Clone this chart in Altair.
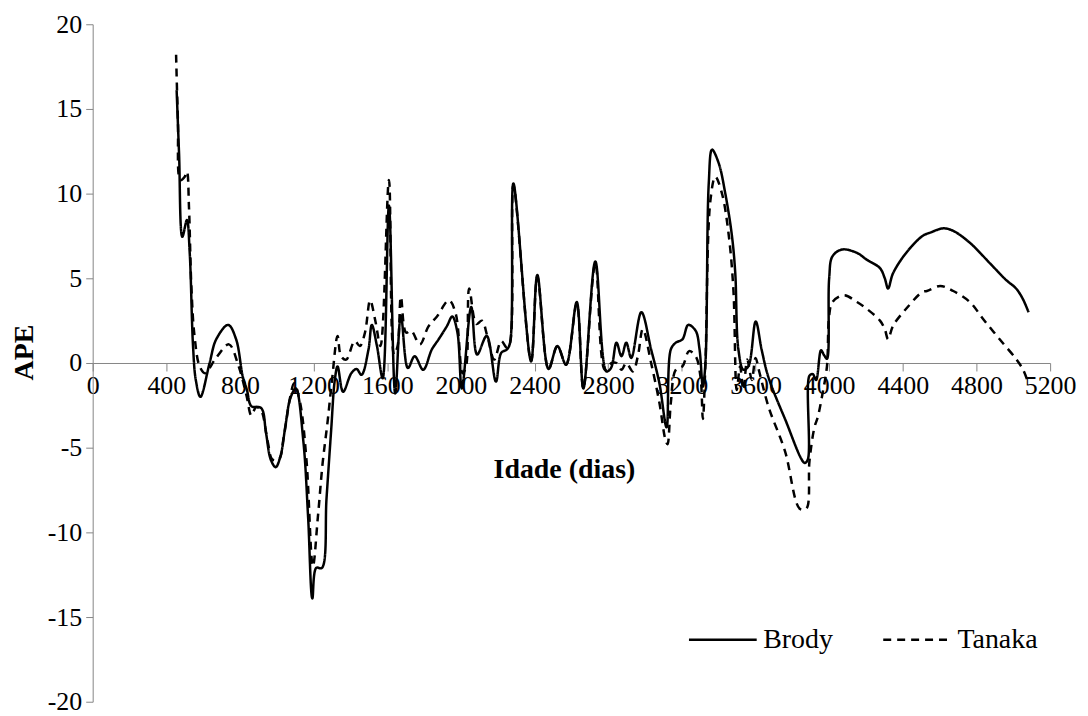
import altair as alt
import pandas as pd

# ---- data ----
brody_x = [456, 469, 487, 512, 527, 545, 560, 585, 635, 671, 736, 779, 815, 838, 862, 915, 941, 967, 994, 1020,
           1047, 1073, 1103, 1144, 1170, 1193, 1214, 1245, 1270, 1295, 1315, 1330, 1360, 1405, 1433, 1460, 1498,
           1516, 1544, 1575, 1609, 1643, 1674, 1712, 1749, 1795, 1842, 1879, 1925, 1953, 1981, 2005, 2056, 2088,
           2140, 2190, 2219, 2250, 2267, 2285, 2381, 2415, 2476, 2524, 2571, 2629, 2665, 2730, 2790, 2815, 2845,
           2872, 2898, 2925, 2980, 3033, 3078, 3117, 3140, 3167, 3203, 3235, 3275, 3296, 3314, 3328, 3346, 3364,
           3400, 3436, 3472, 3490, 3507, 3534, 3561, 3601, 3633, 3669, 3760, 3867, 3884, 3893, 3911, 3929, 3956,
           3973, 3988, 4000, 4018, 4070, 4151, 4204, 4276, 4302, 4320, 4347, 4418, 4507, 4549, 4621, 4674, 4764,
           4872, 4961, 5015, 5051, 5083]
brody_y = [16.1, 12.4, 7.45, 8.45, 6.5, 1.0, -1.0, -2.0, 0.0, 1.4, 2.25, 1.4, -0.8, -1.6, -2.55, -2.66, -4.1, -5.7,
           -6.15, -5.5, -3.7, -2.1, -1.5, -4.6, -9.1, -13.9, -12.1, -12.1, -8.0, -4.0, -1.0, -0.2, -1.7, -0.6, -0.35,
           -0.7, 0.8, 2.25, 1.0, -0.9, 9.3, -1.8, 2.8, -0.3, 0.4, -0.4, 0.8, 1.4, 2.2, 2.75, 1.8, -1.5, 3.3, 0.5,
           1.6, -1.1, 0.6, 0.8, 1.2, 10.6, 0.1, 5.2, -0.35, 1.0, -0.1, 3.6, -1.5, 6.0, -0.5, -0.3, 1.2, 0.4, 1.2,
           0.3, 3.0, 0.8, -1.2, -3.8, 0.8, 1.2, 1.4, 2.25, 1.9, 0.8, -1.4, 0.0, 10.6, 12.6, 11.8, 10.0, 7.5, 5.3,
           0.8, -0.4, -0.2, 2.45, 0.8, -0.8, -3.3, -5.9, -5.7, -0.75, -0.66, -1.0, 0.75, 0.45, 0.25, 5.0, 6.3, 6.7,
           6.5, 6.1, 5.6, 5.0, 4.4, 5.3, 6.5, 7.5, 7.7, 7.95, 7.8, 7.1, 5.9, 4.9, 4.4, 3.8, 3.0]

tanaka_x = [453, 463, 476, 500, 512, 523, 536, 553, 581, 610, 670, 740, 790, 835, 862, 888, 915, 950, 976, 1011,
            1038, 1073, 1094, 1126, 1161, 1196, 1223, 1249, 1276, 1300, 1330, 1349, 1377, 1423, 1451, 1479, 1507,
            1535, 1563, 1609, 1637, 1656, 1674, 1702, 1730, 1777, 1823, 1870, 1935, 1972, 2009, 2028, 2045, 2084,
            2114, 2143, 2181, 2219, 2250, 2267, 2285, 2381, 2415, 2476, 2524, 2571, 2629, 2665, 2730, 2782, 2818,
            2845, 2872, 2898, 2934, 2961, 2988, 3033, 3078, 3110, 3122, 3140, 3167, 3203, 3239, 3275, 3301, 3314,
            3328, 3355, 3382, 3418, 3454, 3480, 3498, 3516, 3534, 3555, 3580, 3600, 3620, 3671, 3760, 3840, 3876,
            3893, 3920, 3938, 3964, 3988, 4000, 4018, 4080, 4151, 4204, 4276, 4302, 4320, 4347, 4418, 4507, 4531,
            4603, 4674, 4764, 4836, 4926, 5015, 5051, 5074]
tanaka_y = [18.2, 14.3, 10.8, 11.0, 11.3, 9.2, 4.5, 1.6, -0.2, -0.6, 0.3, 1.1, -0.1, -1.9, -3.1, -2.6, -2.8, -4.6,
            -5.7, -5.7, -4.35, -2.0, -1.2, -2.3, -5.7, -12.0, -9.1, -5.9, -3.45, -1.0, 1.6, 0.4, 0.2, 1.3, 1.0, 1.8,
            3.7, 2.5, 1.0, 10.8, 0.5, 1.0, 3.9, 1.8, 1.9, 1.1, 2.15, 2.75, 3.7, 2.9, -0.6, -0.2, 4.4, 2.3, 2.5, 1.6,
            0.2, 1.3, 0.9, 1.2, 10.5, 0.1, 5.1, -0.35, 1.0, -0.1, 3.5, -1.5, 5.9, -0.4, 0.0, 0.0, -0.4, 0.0, -0.5,
            0.4, 2.0, 0.0, -2.35, -4.5, -4.8, -2.35, -0.4, -0.2, 0.7, 0.4, -0.8, -3.3, 0.0, 9.6, 11.0, 10.0, 7.6,
            4.3, -1.6, -0.2, -1.6, 0.2, -1.0, 0.3, -0.5, -2.6, -5.2, -8.6, -8.6, -5.8, -3.8, -3.2, -1.8, -0.2, 2.8,
            3.6, 4.0, 3.6, 3.2, 2.5, 2.0, 1.4, 2.2, 3.2, 4.2, 4.25, 4.55, 4.25, 3.6, 2.6, 1.4, 0.24, -0.35, -0.95]

series_names = ["Brody", "Tanaka"]
x_ticks = list(range(0, 5201, 400))
y_ticks = list(range(-20, 21, 5))

df = pd.concat([
    pd.DataFrame({"dias": brody_x, "ape": brody_y, "serie": series_names[0], "ordem": range(len(brody_x))}),
    pd.DataFrame({"dias": tanaka_x, "ape": tanaka_y, "serie": series_names[1], "ordem": range(len(tanaka_x))}),
], ignore_index=True)

FONT = "Liberation Serif"
GRAY = "#868686"
W, H = 961, 680

chart = alt.Chart(df).mark_line(
    interpolate="catmull-rom", strokeWidth=2.5, color="black"
).encode(
    x=alt.X("dias:Q",
            scale=alt.Scale(domain=[0, 5200], nice=False, zero=False),
            axis=alt.Axis(values=x_ticks, title="Idade (dias)", offset=-H / 2, grid=False,
                          labelExpr="'' + datum.value",
                          domainColor=GRAY, tickColor=GRAY, tickSize=8, labelPadding=2,
                          labelFont=FONT, labelFontSize=26, labelColor="black",
                          labelFlush=False, labelOverlap=False,
                          titleFont=FONT, titleFontSize=28, titleFontWeight="bold", titleColor="black",
                          titleY=107, titleBaseline="middle", titleX=473)),
    y=alt.Y("ape:Q",
            scale=alt.Scale(domain=[-20, 20], nice=False),
            axis=alt.Axis(values=y_ticks, title="APE", grid=False, labelExpr="'' + datum.value",
                          domainColor=GRAY, tickColor=GRAY, tickSize=7, labelPadding=4,
                          labelFont=FONT, labelFontSize=26, labelColor="black",
                          titleFont=FONT, titleFontSize=28, titleFontWeight="bold", titleColor="black",
                          titleX=-68, titleY=329, titleAngle=270, titleAlign="center",
                          titleBaseline="middle")),
    strokeDash=alt.StrokeDash("serie:N",
                              scale=alt.Scale(domain=series_names, range=[[1, 0], [8, 6]]),
                              legend=alt.Legend(title=None, orient="none", legendX=597, legendY=582,
                                                direction="horizontal", symbolType="stroke",
                                                symbolSize=4624, symbolStrokeWidth=2.5,
                                                symbolStrokeColor="black", labelFont=FONT,
                                                labelFontSize=28, labelColor="black",
                                                columnPadding=45, labelOffset=5, padding=0)),
    order="ordem:Q",
).properties(
    width=W, height=H,
    background="white",
    autosize=alt.AutoSizeParams(type="none"),
    padding={"left": 85, "top": 15, "right": 30, "bottom": 12},
).configure_view(stroke="transparent", strokeWidth=0)

chart.save("out.html", embed_options={"renderer": "svg", "actions": False})
